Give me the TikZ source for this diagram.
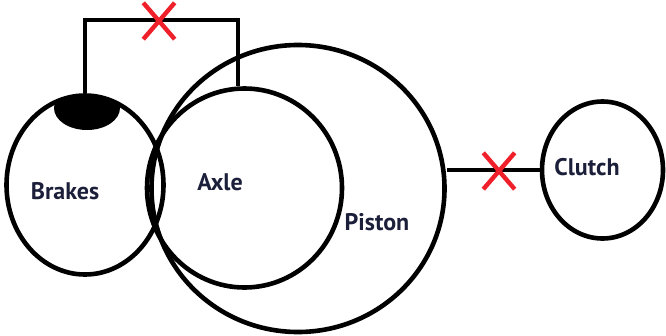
\documentclass[tikz,border=0pt]{standalone}
\usepackage{fontspec}
\newfontfamily\labfont{PT Sans}
\usetikzlibrary{shapes.geometric,shapes.misc}
\definecolor{labcol}{HTML}{1C1F3A}
\definecolor{xred}{HTML}{F0202A}
\tikzset{
  part/.style={draw=black, line width=4.6pt, ellipse, inner sep=0pt},
  wire/.style={draw=black, line width=4.6pt},
  lab/.style={font=\labfont\bfseries\fontsize{24}{28}\selectfont, text=labcol, inner sep=0pt},
  xmark/.style={cross out, draw=xred, line width=4.4pt, inner sep=0pt, minimum width=27pt, minimum height=32pt}
}
\begin{document}
\begin{tikzpicture}[x=1pt,y=-1pt]
\useasboundingbox (0,0) rectangle (666,335);
% shapes
\node[part, minimum width=157pt, minimum height=179pt] (brakes) at (85,185) {};
\node[part, minimum width=195pt, minimum height=199pt] (axle) at (244.5,188) {};
\node[part, minimum width=293pt, minimum height=287pt] (piston) at (298,188.5) {};
\node[part, minimum width=121pt, minimum height=137pt] (clutch) at (602.5,170) {};
% cap on brakes
\begin{scope}
  \clip (85,185) ellipse [x radius=78.5, y radius=89.5];
  \fill[black] (87,108) ellipse [x radius=33, y radius=22];
\end{scope}
% wire over the top
\coordinate (wtop) at (238,20);
\draw[wire] (brakes.north) |- (wtop) -- (wtop |- axle.north);
% piston to clutch
\draw[wire] (clutch.west) -- (clutch.west -| piston.east);
% red crosses
\node[xmark] (x1) at (159,21) {};
\node[xmark] (x2) at (499,171) {};
% labels
\node[lab] (lbrakes) at (65,191) {Brakes};
\node[lab] (laxle) at (220,182) {Axle};
\node[lab] (lpiston) at (377,222) {Piston};
\node[lab] (lclutch) at (587,167) {Clutch};
\end{tikzpicture}
\end{document}
